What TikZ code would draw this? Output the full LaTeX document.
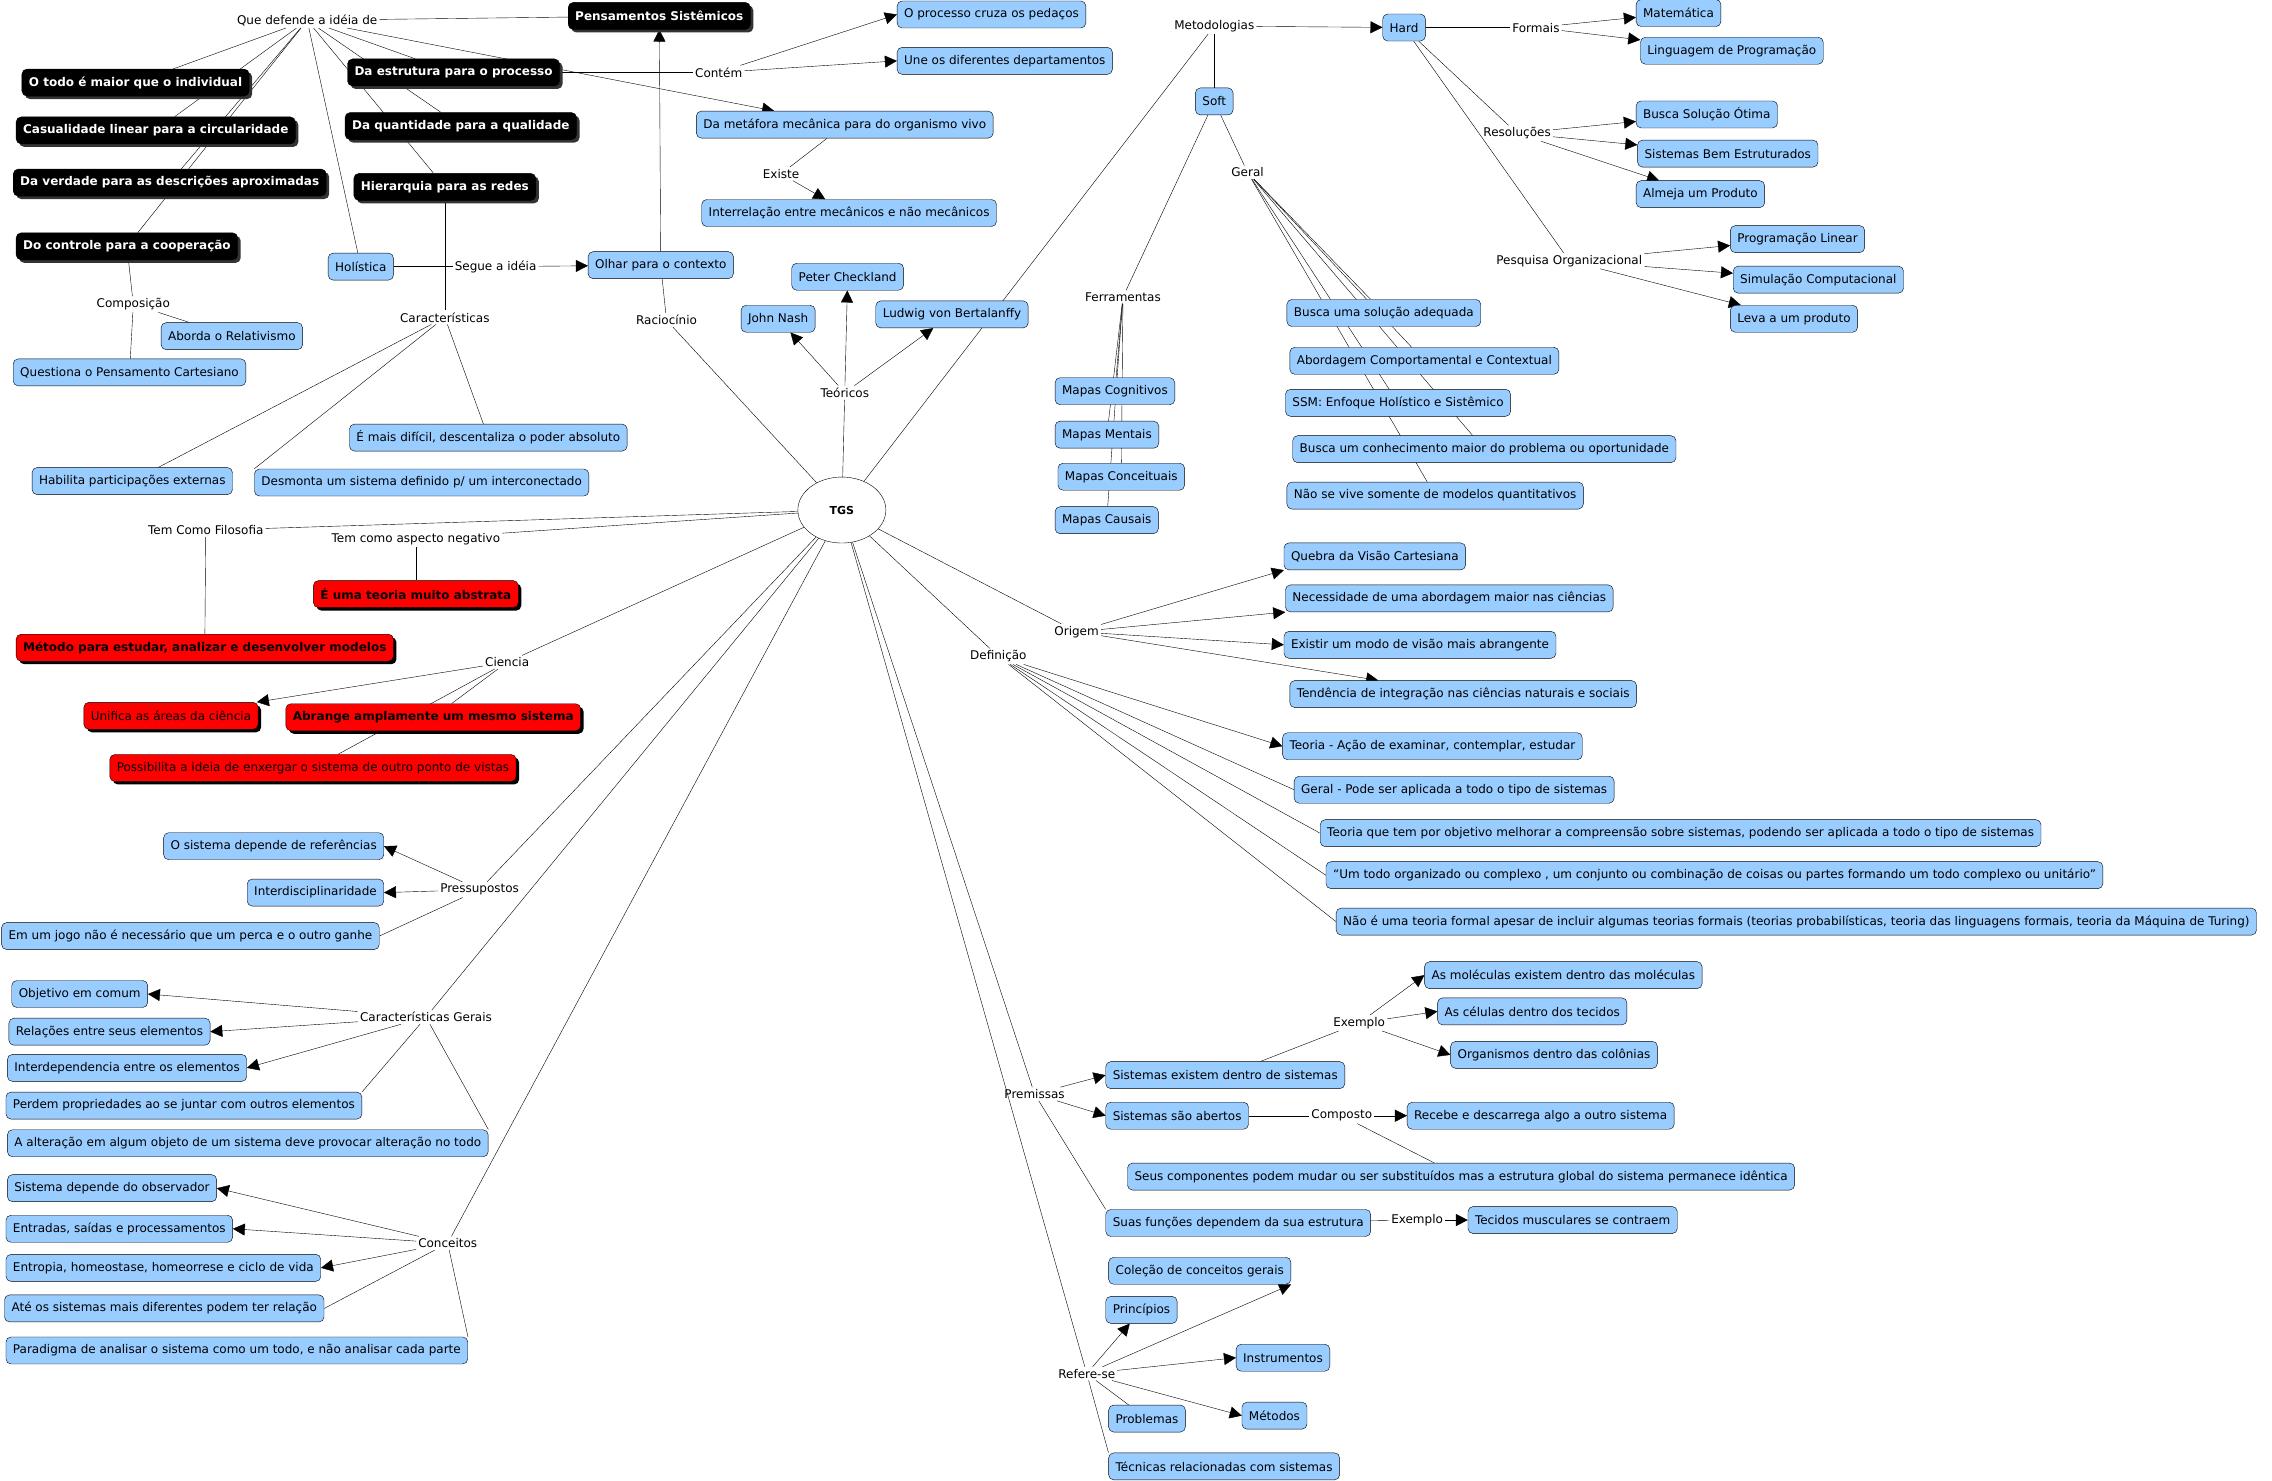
\documentclass[tikz,border=0pt]{standalone}
\usepackage{fontspec}
\setmainfont{DejaVu Sans}
\usetikzlibrary{arrows.meta,shapes.geometric,shadows}
\definecolor{cmblue}{RGB}{153,204,255}
\newcommand\mapfont{\fontsize{12}{14}\selectfont}
\pgfdeclarelayer{bg}
\pgfdeclarelayer{edges}
\pgfsetlayers{bg,edges,main}
\tikzset{
  bluebox/.style={draw,rounded corners=5pt,fill=cmblue,inner xsep=7pt,inner ysep=3pt,minimum height=27pt,font=\mapfont},
  blackbox/.style={bluebox,fill=black,text=white,font=\mapfont\bfseries,drop shadow={shadow xshift=3pt,shadow yshift=-3pt,fill=black!80,opacity=1}},
  redbox/.style={bluebox,fill=red,drop shadow={shadow xshift=3pt,shadow yshift=-3pt,fill=black,opacity=1}},
  redboxb/.style={redbox,font=\mapfont\bfseries},
  phrase/.style={inner sep=2pt,font=\mapfont},
  arrowed/.style={-{Triangle[length=12pt,width=12pt]}}
}
\begin{document}
\begin{tikzpicture}[x=1.449pt,y=-1.449pt,line width=1.3pt]
\useasboundingbox (0,0) rectangle (1568,1022);
\begin{pgfonlayer}{bg}\fill[white] (0,0) rectangle (1568,1022);\end{pgfonlayer}
% Pensamentos sistemicos
\node[blackbox] (pens) at (455,11) {Pensamentos Sistêmicos};
\node[phrase] (qdef) at (212,14) {Que defende a idéia de};
\node[blackbox,anchor=west] (todo) at (15,57) {O todo é maior que o individual};
\node[blackbox,anchor=west] (casual) at (11,90) {Casualidade linear para a circularidade};
\node[blackbox,anchor=west] (verdade) at (9,126) {Da verdade para as descrições aproximadas};
\node[blackbox,anchor=west] (controle) at (11,170) {Do controle para a cooperação};
\node[blackbox] (estrut) at (313,50) {Da estrutura para o processo};
\node[blackbox] (quant) at (318,87) {Da quantidade para a qualidade};
\node[blackbox] (hier) at (307,129) {Hierarquia para as redes};
\node[bluebox] (holis) at (249,184) {Holística};
\node[phrase] (segue) at (342,184) {Segue a idéia};
\node[bluebox] (olhar) at (456,183) {Olhar para o contexto};
\node[phrase] (compos) at (92,210) {Composição};
\node[bluebox] (relat) at (160,232) {Aborda o Relativismo};
\node[bluebox,anchor=west] (cartes) at (9,257) {Questiona o Pensamento Cartesiano};
\node[phrase] (caract) at (307,219) {Características};
\node[bluebox] (dificil) at (337,302) {É mais difícil, descentaliza o poder absoluto};
\node[bluebox,anchor=west] (habilita) at (22,332) {Habilita participações externas};
\node[bluebox] (desmonta) at (291,333) {Desmonta um sistema definido p/ um interconectado};
\node[phrase] (racioc) at (460,221) {Raciocínio};
\node[phrase] (contem) at (496,50) {Contém};
\node[bluebox,anchor=west] (cruza) at (619,10) {O processo cruza os pedaços};
\node[bluebox,anchor=west] (une) at (619,42) {Une os diferentes departamentos};
\node[bluebox] (metaf) at (583,86) {Da metáfora mecânica para do organismo vivo};
\node[phrase] (existe) at (539,120) {Existe};
\node[bluebox] (interrel) at (586,147) {Interrelação entre mecânicos e não mecânicos};
% teoricos
\node[bluebox] (checkland) at (585,191) {Peter Checkland};
\node[bluebox] (nash) at (537,220) {John Nash};
\node[bluebox] (ludwig) at (657,217) {Ludwig von Bertalanffy};
\node[phrase] (teoricos) at (583,271) {Teóricos};
\node[ellipse,draw,fill=white,minimum width=88pt,minimum height=66pt,font=\fontsize{11}{13}\selectfont\bfseries] (tgs) at (581,352) {TGS};
% metodologias
\node[phrase] (metod) at (838,18) {Metodologias};
\node[bluebox] (hard) at (969,19) {Hard};
\node[phrase] (formais) at (1060,19) {Formais};
\node[bluebox,anchor=west] (matem) at (1129,9) {Matemática};
\node[bluebox,anchor=west] (lingprog) at (1132,35) {Linguagem de Programação};
\node[bluebox] (soft) at (838,70) {Soft};
\node[phrase] (geral) at (861,119) {Geral};
\node[phrase] (resol) at (1047,92) {Resoluções};
\node[bluebox,anchor=west] (otima) at (1129,79) {Busca Solução Ótima};
\node[bluebox,anchor=west] (bemestr) at (1130,106) {Sistemas Bem Estruturados};
\node[bluebox,anchor=west] (almeja) at (1129,134) {Almeja um Produto};
\node[phrase] (pesq) at (1083,180) {Pesquisa Organizacional};
\node[bluebox,anchor=west] (proglin) at (1194,165) {Programação Linear};
\node[bluebox,anchor=west] (simul) at (1196,193) {Simulação Computacional};
\node[bluebox,anchor=west] (leva) at (1194,220) {Leva a um produto};
\node[phrase] (ferram) at (775,205) {Ferramentas};
\node[bluebox,anchor=west] (mcog) at (728,270) {Mapas Cognitivos};
\node[bluebox,anchor=west] (mment) at (728,300) {Mapas Mentais};
\node[bluebox,anchor=west] (mconc) at (730,329) {Mapas Conceituais};
\node[bluebox,anchor=west] (mcaus) at (728,359) {Mapas Causais};
\node[bluebox,anchor=west] (adequada) at (888,216) {Busca uma solução adequada};
\node[bluebox,anchor=west] (abordagem) at (890,249) {Abordagem Comportamental e Contextual};
\node[bluebox,anchor=west] (ssm) at (887,278) {SSM: Enfoque Holístico e Sistêmico};
\node[bluebox,anchor=west] (conhec) at (892,310) {Busca um conhecimento maior do problema ou oportunidade};
\node[bluebox,anchor=west] (naovive) at (888,342) {Não se vive somente de modelos quantitativos};
% filosofia, ciencia
\node[phrase] (filos) at (142,366) {Tem Como Filosofia};
\node[phrase] (negat) at (287,372) {Tem como aspecto negativo};
\node[redboxb] (abstrata) at (287,410) {É uma teoria muito abstrata};
\node[redboxb,anchor=west] (metodo) at (11,447) {Método para estudar, analizar e desenvolver modelos};
\node[phrase] (ciencia) at (350,457) {Ciencia};
\node[redbox] (unifica) at (118,494) {Unifica as áreas da ciência};
\node[redboxb] (abrange) at (299,495) {Abrange amplamente um mesmo sistema};
\node[redbox] (possib) at (216,530) {Possibilita a ideia de enxergar o sistema de outro ponto de vistas};
% pressupostos
\node[phrase] (pressup) at (331,614) {Pressupostos};
\node[bluebox,anchor=east] (refer) at (265,584) {O sistema depende de referências};
\node[bluebox,anchor=east] (interd) at (265,616) {Interdisciplinaridade};
\node[bluebox,anchor=west] (jogo) at (1,646) {Em um jogo não é necessário que um perca e o outro ganhe};
% caracteristicas gerais
\node[phrase] (cgerais) at (294,702) {Características Gerais};
\node[bluebox,anchor=west] (objetivo) at (8,686) {Objetivo em comum};
\node[bluebox,anchor=west] (relacoes) at (6,712) {Relações entre seus elementos};
\node[bluebox,anchor=west] (interdep) at (5,737) {Interdependencia entre os elementos};
\node[bluebox,anchor=west] (perdem) at (4,763) {Perdem propriedades ao se juntar com outros elementos};
\node[bluebox,anchor=west] (alteracao) at (5,789) {A alteração em algum objeto de um sistema deve provocar alteração no todo};
% conceitos
\node[phrase] (conceitos) at (309,858) {Conceitos};
\node[bluebox,anchor=west] (observ) at (5,820) {Sistema depende do observador};
\node[bluebox,anchor=west] (entradas) at (4,848) {Entradas, saídas e processamentos};
\node[bluebox,anchor=west] (entropia) at (4,875) {Entropia, homeostase, homeorrese e ciclo de vida};
\node[bluebox,anchor=west] (ate) at (3,903) {Até os sistemas mais diferentes podem ter relação};
\node[bluebox,anchor=west] (paradigma) at (4,932) {Paradigma de analisar o sistema como um todo, e não analisar cada parte};
% origem, definicao
\node[phrase] (origem) at (743,436) {Origem};
\node[phrase] (defin) at (689,453) {Definição};
\node[bluebox,anchor=west] (quebra) at (886,384) {Quebra da Visão Cartesiana};
\node[bluebox,anchor=west] (necess) at (887,413) {Necessidade de uma abordagem maior nas ciências};
\node[bluebox,anchor=west] (existir) at (886,445) {Existir um modo de visão mais abrangente};
\node[bluebox,anchor=west] (tendencia) at (890,479) {Tendência de integração nas ciências naturais e sociais};
\node[bluebox,anchor=west] (teoria) at (885,515) {Teoria - Ação de examinar, contemplar, estudar};
\node[bluebox,anchor=west] (geralpode) at (893,545) {Geral - Pode ser aplicada a todo o tipo de sistemas};
\node[bluebox,anchor=west] (objteoria) at (911,575) {Teoria que tem por objetivo melhorar a compreensão sobre sistemas, podendo ser aplicada a todo o tipo de sistemas};
\node[bluebox,anchor=west] (todoorg) at (915,604) {“Um todo organizado ou complexo , um conjunto ou combinação de coisas ou partes formando um todo complexo ou unitário”};
\node[bluebox,anchor=west] (naoformal) at (922,636) {Não é uma teoria formal apesar de incluir algumas teorias formais (teorias probabilísticas, teoria das linguagens formais, teoria da Máquina de Turing)};
% premissas
\node[phrase] (exemplo) at (938,706) {Exemplo};
\node[bluebox,anchor=west] (molec) at (983,673) {As moléculas existem dentro das moléculas};
\node[bluebox,anchor=west] (celulas) at (992,698) {As células dentro dos tecidos};
\node[bluebox,anchor=west] (organ) at (1001,728) {Organismos dentro das colônias};
\node[phrase] (premissas) at (714,755) {Premissas};
\node[bluebox,anchor=west] (sisdentro) at (763,742) {Sistemas existem dentro de sistemas};
\node[bluebox,anchor=west] (abertos) at (763,770) {Sistemas são abertos};
\node[phrase] (composto) at (926,770) {Composto};
\node[bluebox,anchor=west] (recebe) at (971,770) {Recebe e descarrega algo a outro sistema};
\node[bluebox,anchor=west] (compon) at (778,812) {Seus componentes podem mudar ou ser substituídos mas a estrutura global do sistema permanece idêntica};
\node[bluebox,anchor=west] (funcoes) at (763,844) {Suas funções dependem da sua estrutura};
\node[phrase] (exemplob) at (978,842) {Exemplo};
\node[bluebox,anchor=west] (tecidos) at (1013,842) {Tecidos musculares se contraem};
% refere-se
\node[phrase] (refere) at (750,948) {Refere-se};
\node[bluebox,anchor=west] (colecao) at (765,877) {Coleção de conceitos gerais};
\node[bluebox,anchor=west] (princ) at (763,904) {Princípios};
\node[bluebox,anchor=west] (instrum) at (853,937) {Instrumentos};
\node[bluebox,anchor=west] (problemas) at (765,979) {Problemas};
\node[bluebox,anchor=west] (metodos) at (857,977) {Métodos};
\node[bluebox,anchor=west] (tecnicas) at (765,1012) {Técnicas relacionadas com sistemas};
% connectors
\begin{pgfonlayer}{edges}
\foreach \a/\b in {pens/qdef,qdef/todo,qdef/casual,qdef/verdade,qdef/controle,qdef/estrut,qdef/quant,qdef/hier,qdef/holis,
  estrut/contem,metaf/existe,controle/compos,compos/relat,compos/cartes,holis/segue,hier/caract,caract/habilita,caract/desmonta.north west,caract/dificil,
  tgs/racioc,racioc/olhar,tgs/teoricos,tgs/metod,metod/soft,hard/formais,hard/resol,hard/pesq,soft/ferram,ferram/mcog,ferram/mment,ferram/mconc,ferram/mcaus,
  soft/geral,geral/adequada,geral/abordagem,geral/ssm,geral/conhec,geral/naovive,tgs/filos,filos/metodo,tgs/negat,negat/abstrata,tgs/ciencia,ciencia/abrange,ciencia/possib,
  tgs/pressup,pressup/jogo.east,tgs/cgerais,cgerais/perdem.north east,cgerais/alteracao.north east,tgs/conceitos,conceitos/ate.east,conceitos/paradigma.north east,
  tgs/premissas,tgs/refere,premissas/funcoes.north west,tgs/origem,tgs/defin,defin/geralpode.west,defin/objteoria.west,defin/todoorg.west,defin/naoformal.west,
  sisdentro/exemplo,abertos/composto,composto/compon,funcoes/exemplob,refere/problemas,refere/tecnicas.north west}
  \draw (\a) -- (\b);
\foreach \a/\b in {olhar/pens,segue/olhar,contem/cruza.west,contem/une.west,qdef/metaf,existe/interrel,teoricos/nash,teoricos/checkland,teoricos/ludwig,metod/hard,
  formais/matem,formais/lingprog,resol/otima,resol/bemestr,resol/almeja,pesq/proglin,pesq/simul,pesq/leva,ciencia/unifica,pressup/refer.east,pressup/interd.east,
  cgerais/objetivo.east,cgerais/relacoes.east,cgerais/interdep.east,conceitos/observ.east,conceitos/entradas.east,conceitos/entropia.east,
  origem/quebra.south west,origem/necess.south west,origem/existir.west,origem/tendencia,defin/teoria.west,
  exemplo/molec.west,exemplo/celulas.west,exemplo/organ.west,premissas/sisdentro.west,premissas/abertos.west,composto/recebe,exemplob/tecidos,
  refere/colecao.south east,refere/princ,refere/instrum.west,refere/metodos.west}
  \draw[arrowed] (\a) -- (\b);
\end{pgfonlayer}
\end{tikzpicture}
\end{document}
